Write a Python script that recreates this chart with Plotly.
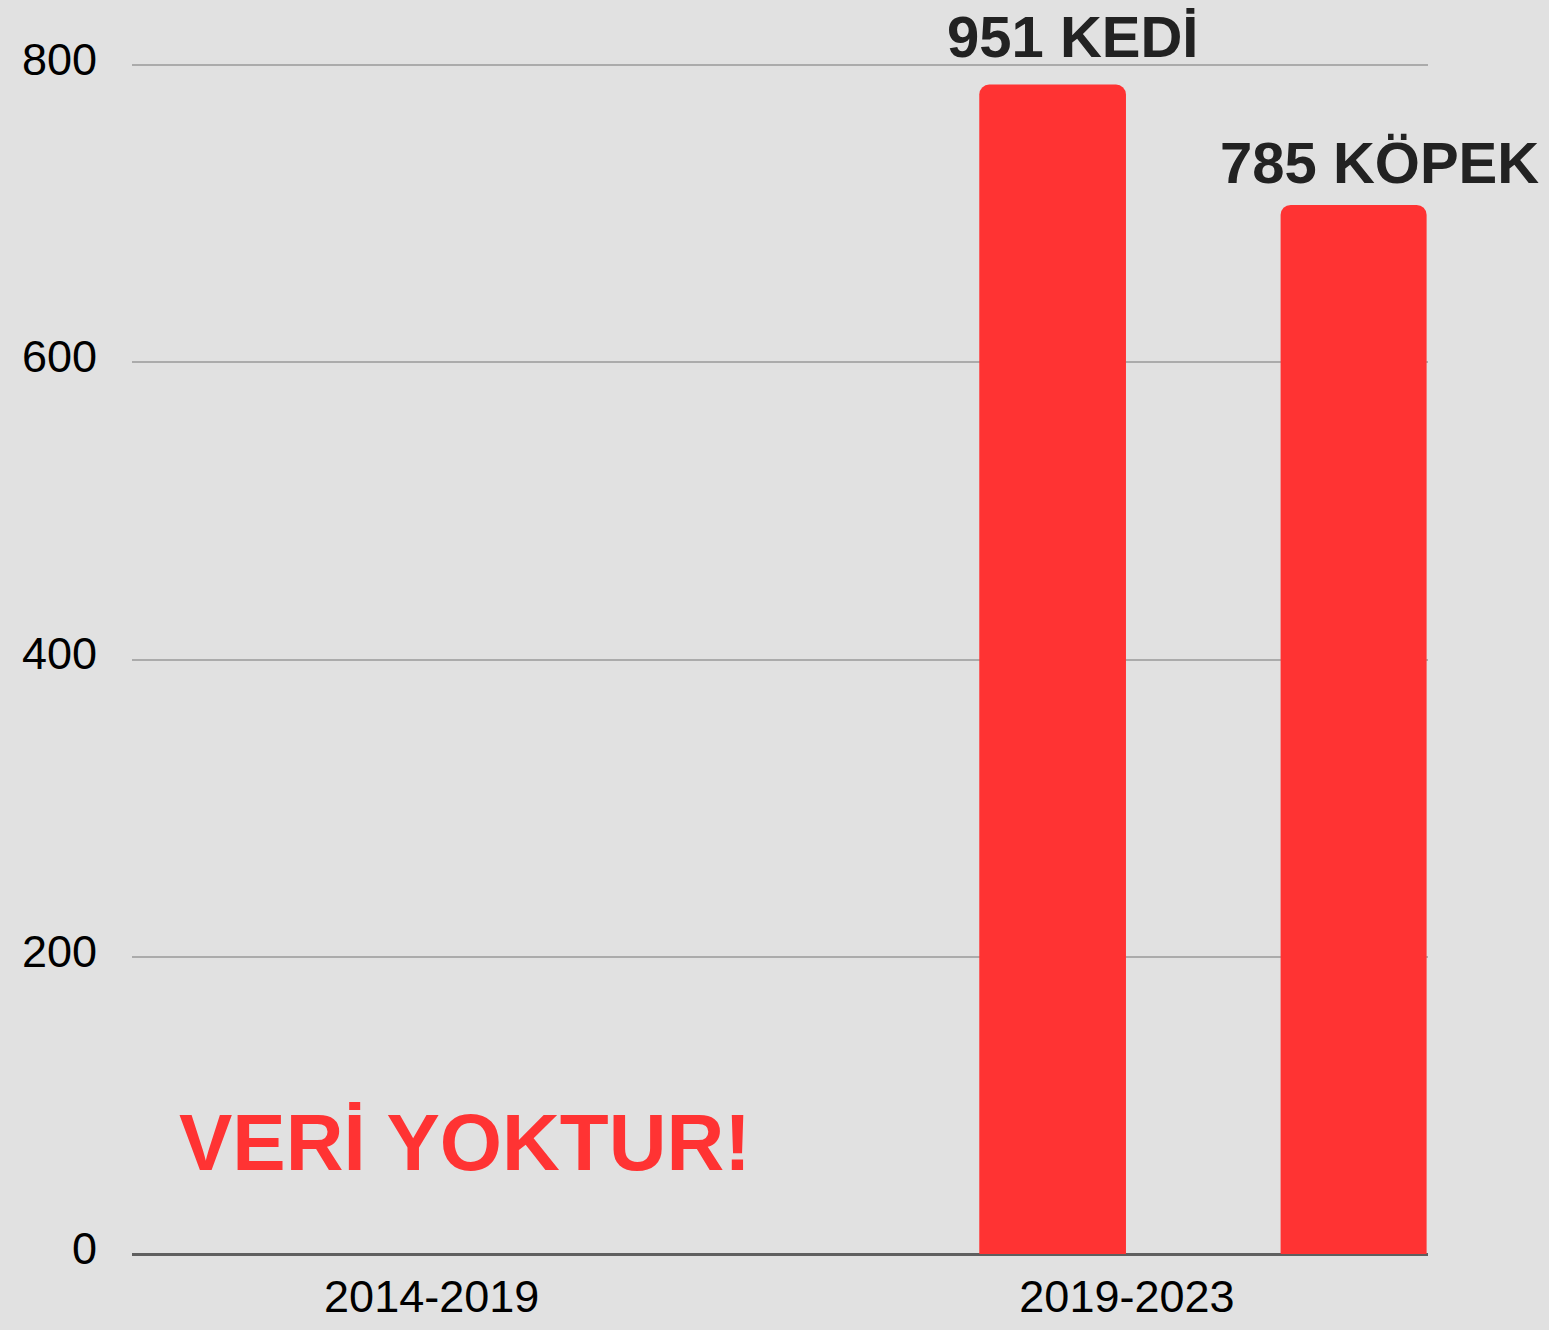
import plotly.graph_objects as go

# values
periods = ["2014-2019", "2019-2023"]
cat_counts = [None, 787]
dog_counts = [None, 706]
bar_labels = ["951 KEDİ", "785 KÖPEK"]
no_data_text = "VERİ YOKTUR!"
y_ticks = [0, 200, 400, 600, 800]

RED = "#ff3333"
BG = "#e1e1e1"
FONT = "Arial, Liberation Sans, sans-serif"

fig = go.Figure()

fig.add_trace(go.Bar(
    x=periods,
    y=cat_counts,
    name="KEDİ",
    marker=dict(color=RED, cornerradius=10, line=dict(width=0)),
    width=0.211,
    offset=-0.2124,
))

fig.add_trace(go.Bar(
    x=periods,
    y=dog_counts,
    name="KÖPEK",
    marker=dict(color=RED, cornerradius=10, line=dict(width=0)),
    width=0.21,
    offset=0.221,
))

# labels above the bars
label_font = dict(family=FONT, size=58, color="#222222")
fig.add_annotation(
    x=periods[1], y=cat_counts[1], xref="x", yref="y",
    text="<b>%s</b>" % bar_labels[0], showarrow=False,
    xanchor="center", yanchor="middle", xshift=-54, yshift=48,
    font=label_font,
)
fig.add_annotation(
    x=periods[1], y=dog_counts[1], xref="x", yref="y",
    text="<b>%s</b>" % bar_labels[1], showarrow=False,
    xanchor="center", yanchor="middle", xshift=253, yshift=42,
    font=label_font,
)

# no data note for the first period
fig.add_annotation(
    x=periods[0], y=75, xref="x", yref="y",
    text="<b>%s</b>" % no_data_text, showarrow=False,
    xanchor="center", yanchor="middle", xshift=33,
    font=dict(family=FONT, size=80, color=RED),
)

fig.update_layout(
    width=1549,
    height=1330,
    paper_bgcolor=BG,
    plot_bgcolor=BG,
    showlegend=False,
    margin=dict(l=132, r=121, t=63, b=76, autoexpand=False),
    font=dict(family=FONT, size=44, color="#000000"),
    xaxis=dict(
        type="category",
        range=[-0.431, 1.433],
        automargin=False,
        showgrid=False,
        showline=False,
        zeroline=False,
        ticks="",
        tickfont=dict(size=45, color="#000000"),
        ticklabelstandoff=12,
    ),
    yaxis=dict(
        range=[0, 801.5],
        tickvals=y_ticks,
        automargin=False,
        showgrid=True,
        gridcolor="#ababab",
        gridwidth=2,
        zeroline=True,
        zerolinecolor="#5f5f5f",
        zerolinewidth=3,
        showline=False,
        ticks="",
        tickfont=dict(size=45, color="#000000"),
        ticklabelstandoff=34,
        ticklabelshift=-6,
    ),
)

fig.write_html(
    "out.html",
    config={"displayModeBar": False},
    post_script="document.body.style.margin='0';document.body.style.overflow='hidden';",
)
